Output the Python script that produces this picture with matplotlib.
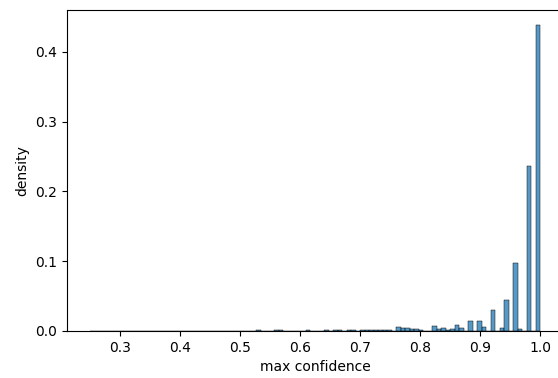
import numpy as np
import pandas as pd
import matplotlib
matplotlib.use("Agg")
import matplotlib.pyplot as plt
import seaborn as sns

# 100 equal bins between 0.25 and 1.0
bin_lo = 0.25
bin_hi = 1.0
n_bins = 100

# non-empty bins: bin index -> share of samples
bin_index = [37, 41, 42, 48, 52, 54, 55, 57, 58,
             60, 61, 62, 63, 64, 65, 66,
             68, 69, 70, 71, 72, 73, 76, 77, 78, 79, 80, 81, 82,
             84, 86, 87, 89, 91, 92, 94, 95, 97, 99]
bin_share = [0.001, 0.001, 0.001, 0.001, 0.001, 0.001, 0.001, 0.0015, 0.0015,
             0.002, 0.002, 0.002, 0.002, 0.002, 0.002, 0.002,
             0.006, 0.004, 0.004, 0.003, 0.003, 0.001, 0.007, 0.003, 0.005, 0.002, 0.003, 0.0086, 0.004,
             0.0143, 0.0143, 0.006, 0.030, 0.005, 0.0444, 0.098, 0.003, 0.236, 0.438]

edges = np.linspace(bin_lo, bin_hi, n_bins + 1)
centers = (edges[:-1] + edges[1:]) / 2
weights = np.zeros(n_bins)
weights[bin_index] = bin_share
df = pd.DataFrame({"conf": centers, "w": weights})

fig = plt.figure(figsize=(5.58, 3.78), dpi=100)
ax = fig.add_axes([67 / 558, 47 / 378, 496 / 558, 321 / 378])

sns.histplot(data=df, x="conf", weights="w", bins=n_bins,
             binrange=(bin_lo, bin_hi), ax=ax)

# 5% padding each side of the bin range
pad = 0.05 * (bin_hi - bin_lo)
ax.set_xlim(bin_lo - pad, bin_hi + pad)

ax.set_xlabel("max confidence")
ax.set_ylabel("density")

fig.savefig("out.png", dpi=100)
